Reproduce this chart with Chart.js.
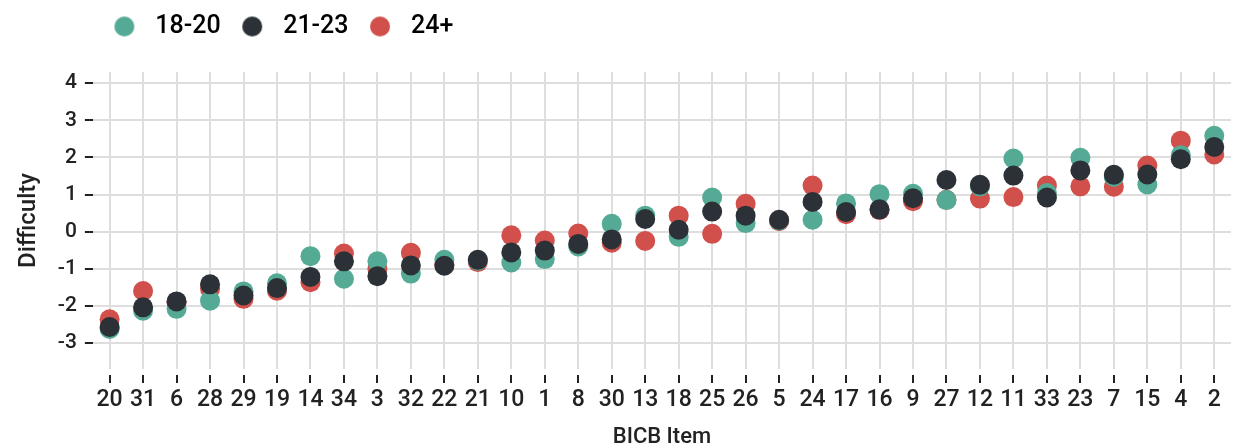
<!DOCTYPE html>
<html>
<head>
<meta charset="utf-8">
<title>BICB item difficulty by age group</title>
<style>
  html, body { margin: 0; padding: 0; background: #fff; }
  #wrap { width: 1241px; height: 445px; }
</style>
</head>
<body>
<div id="wrap"><canvas id="myChart"></canvas></div>
<script src="https://cdn.jsdelivr.net/npm/chart.js@4.4.0/dist/chart.umd.min.js"></script>
<script>
// items, in the order they sit on the x axis
var items = ['20', '31', '6', '28', '29', '19', '14', '34', '3', '32', '22', '21', '10', '1', '8', '30', '13',
  '18', '25', '26', '5', '24', '17', '16', '9', '27', '12', '11', '33', '23', '7', '15', '4', '2'];

// difficulty per age group
var age18to20 = [-2.62, -2.13, -2.08, -1.86, -1.61, -1.39, -0.66, -1.27, -0.80, -1.13, -0.76, -0.78, -0.83, -0.74, -0.40, 0.21, 0.43,
  -0.14, 0.92, 0.23, 0.30, 0.32, 0.76, 1.01, 1.02, 0.85, 1.22, 1.97, 1.04, 1.99, 1.48, 1.27, 2.06, 2.58];
var age21to23 = [-2.57, -2.04, -1.88, -1.42, -1.72, -1.52, -1.22, -0.80, -1.20, -0.91, -0.92, -0.76, -0.56, -0.51, -0.33, -0.21, 0.34,
  0.05, 0.54, 0.43, 0.32, 0.80, 0.53, 0.60, 0.90, 1.39, 1.26, 1.51, 0.92, 1.65, 1.53, 1.54, 1.95, 2.28];
var age24plus = [-2.36, -1.60, -1.90, -1.54, -1.81, -1.59, -1.36, -0.59, -1.00, -0.57, -0.88, -0.82, -0.10, -0.24, -0.05, -0.30, -0.25,
  0.43, -0.06, 0.75, 0.28, 1.24, 0.47, 0.58, 0.82, 0.86, 0.89, 0.93, 1.24, 1.22, 1.21, 1.78, 2.45, 2.08];

var groupNames = ['18-20', '21-23', '24+'];
var yTicks = [-3, -2, -1, 0, 1, 2, 3, 4];

var teal = '#54aa95';
var dark = '#2b3136';
var red = '#d1504b';
var ink = '#222222';
var gridColor = '#dedede';

Chart.defaults.font.family = 'Roboto, "DejaVu Sans", sans-serif';
Chart.defaults.font.weight = '500';
Chart.defaults.color = ink;

// legend marker: circle sitting left of the box so the text gets more room
function dot(color) {
  var c = document.createElement('canvas');
  c.width = 34;
  c.height = 22;
  var g = c.getContext('2d');
  g.fillStyle = color;
  g.beginPath();
  g.arc(11, 11, 10, 0, Math.PI * 2);
  g.fill();
  return c;
}

function series(name, values, color, order) {
  return {
    label: name,
    data: values,
    backgroundColor: color,
    borderColor: color,
    pointBackgroundColor: color,
    pointBorderWidth: 0,
    pointRadius: 10,
    pointHoverRadius: 10,
    order: order
  };
}

var ctx = document.getElementById('myChart').getContext('2d');
var chart = new Chart(ctx, {
  type: 'line',
  data: {
    labels: items,
    datasets: [
      series(groupNames[0], age18to20, teal, 1),
      series(groupNames[1], age21to23, dark, 0),
      series(groupNames[2], age24plus, red, 2)
    ]
  },
  options: {
    responsive: true,
    maintainAspectRatio: false,
    animation: false,
    showLine: false,
    layout: { padding: { top: -11, left: 12, right: 0, bottom: -6 } },
    plugins: {
      tooltip: { enabled: false },
      // empty title, only used as a gap between legend and plot
      title: { display: true, text: '', weight: 900, font: { size: 10 }, padding: { top: 0, bottom: 11 } },
      legend: {
        position: 'top',
        align: 'start',
        fullSize: false,
        labels: {
          usePointStyle: true,
          boxWidth: 25,
          boxHeight: 14,
          padding: 25,
          color: ink,
          font: { size: 25, weight: '500' },
          generateLabels: function (ch) {
            return ch.data.datasets.map(function (ds, i) {
              return {
                text: ds.label,
                fillStyle: ds.backgroundColor,
                strokeStyle: ds.backgroundColor,
                lineWidth: 0,
                pointStyle: dot(ds.backgroundColor),
                hidden: !ch.isDatasetVisible(i),
                datasetIndex: i
              };
            });
          }
        }
      }
    },
    scales: {
      x: {
        type: 'category',
        offset: true,
        border: { display: false },
        grid: {
          color: gridColor,
          lineWidth: 2,
          offset: false,
          tickColor: ink,
          tickWidth: 2,
          tickLength: 14,
          tickBorderDash: [0, 6, 8, 0]
        },
        ticks: { autoSkip: false, maxRotation: 0, padding: 3, font: { size: 23 } },
        title: { display: true, text: 'BICB Item', font: { size: 22 }, padding: { top: 8, bottom: 0 } }
      },
      y: {
        min: -3.7,
        max: 4.3,
        border: { display: false },
        afterBuildTicks: function (scale) {
          scale.ticks = yTicks.map(function (v) { return { value: v }; });
        },
        grid: {
          color: gridColor,
          lineWidth: 2,
          tickColor: ink,
          tickWidth: 2,
          tickLength: 8
        },
        ticks: { padding: 8, font: { size: 21 } },
        title: { display: true, text: 'Difficulty', font: { size: 24 }, padding: { top: 3, bottom: 6 } }
      }
    }
  }
});
</script>
</body>
</html>
